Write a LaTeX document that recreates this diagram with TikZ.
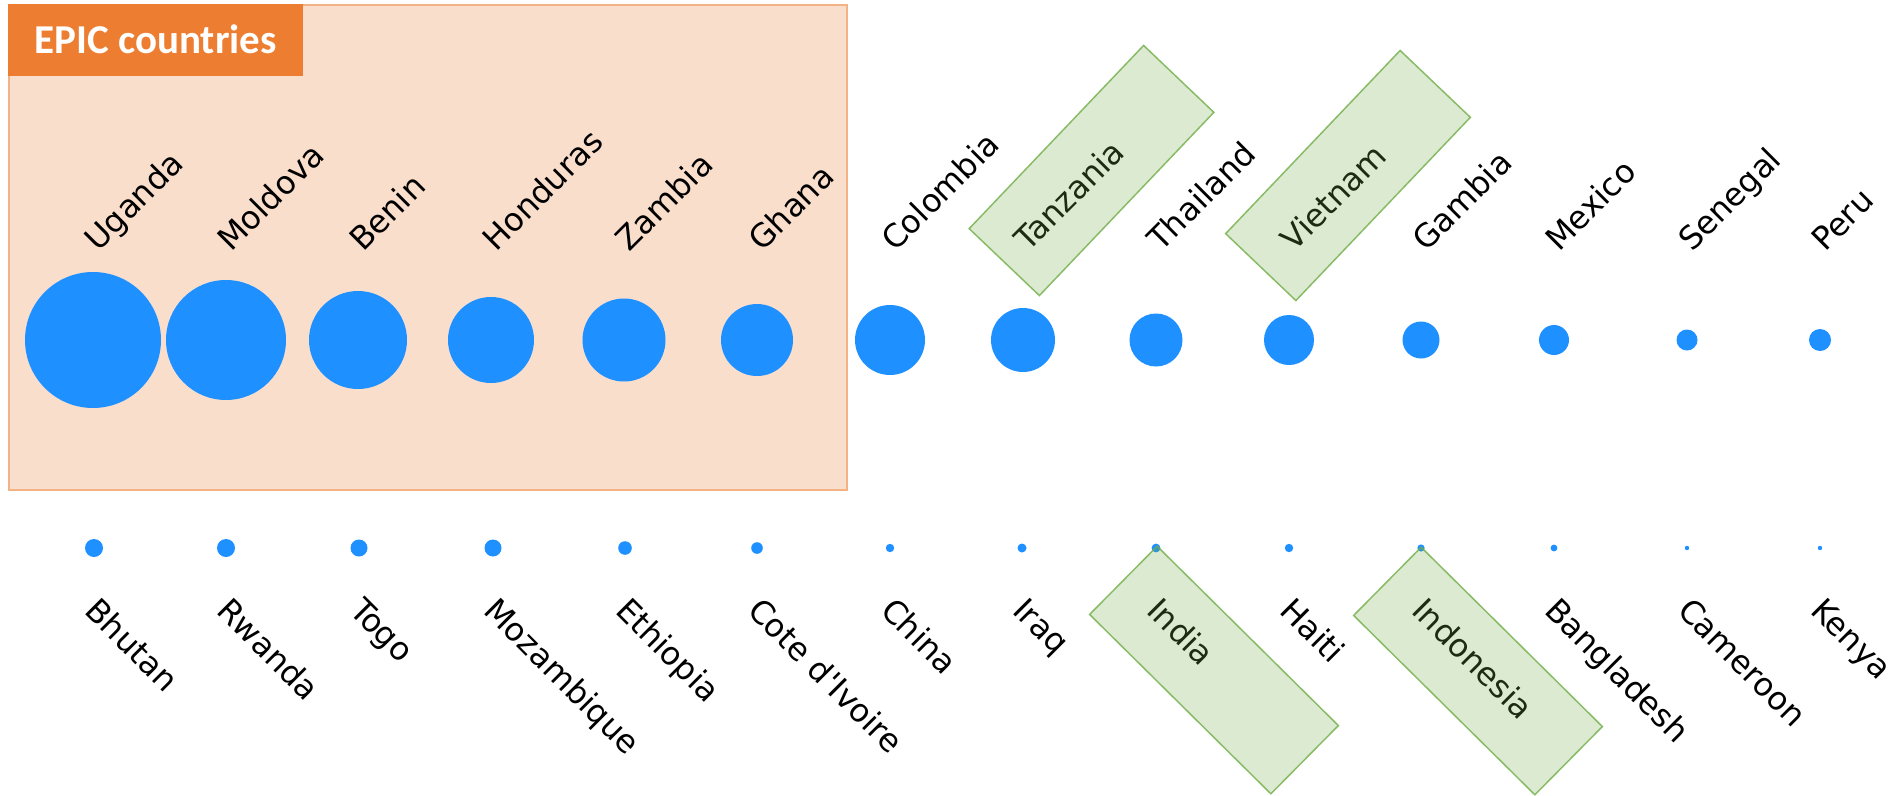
\documentclass[tikz,border=0pt]{standalone}
\usepackage{fontspec}
\newfontfamily\labfont{DejaVu Sans}
\newfontfamily\titlefont{Carlito}
\definecolor{epicorange}{HTML}{ED7D31}
\definecolor{panelfill}{HTML}{F9DECC}
\definecolor{panelborder}{HTML}{F4B183}
\definecolor{dotblue}{HTML}{1E90FF}
\definecolor{boxgreen}{HTML}{70AD47}
\begin{document}
\begin{tikzpicture}[x=1pt,y=-1pt,
  panel/.style={draw=panelborder, fill=panelfill, line width=1.5pt, anchor=north west, inner sep=0pt},
  titlebox/.style={fill=epicorange, text=white, anchor=north west, inner sep=0pt,
    font=\titlefont\bfseries\fontsize{41}{48}\selectfont, text height=26pt, text depth=0pt},
  dot/.style={circle, fill=dotblue, inner sep=0pt},
  lblup/.style={font=\labfont\fontsize{32}{38}\selectfont, rotate=45, anchor=base west, inner sep=0pt},
  lbldown/.style={font=\labfont\fontsize{32}{38}\selectfont, rotate=-45, anchor=base west, inner sep=0pt},
  greenbox/.style={draw=boxgreen, draw opacity=0.8, line width=1.5pt, fill=boxgreen, fill opacity=0.25, inner sep=0pt}
]
\useasboundingbox (0,0) rectangle (1895,795);
\node[panel, minimum width=838, minimum height=485] (panel) at (8,4) {};
\node[titlebox, minimum width=295, minimum height=72] (title) at (8,4) {EPIC countries};
\foreach \n/\x/\r/\lab in {1/93/68/Uganda, 2/226/60/Moldova, 3/358/49/Benin, 4/491/43/Honduras,
  5/624/41.5/Zambia, 6/757/36/Ghana, 7/890/35/Colombia, 8/1023/32/Tanzania, 9/1156/26.5/Thailand,
  10/1289/25/Vietnam, 11/1421/18.5/Gambia, 12/1554/15/Mexico, 13/1687/10.5/Senegal, 14/1820/11/Peru}{
  \node[dot, minimum size={2*\r}] (top\n) at (\x,340) {};
  \node[lblup] (ltop\n) at ({\x+5},253) {\lab};
}
\foreach \n/\x/\r/\lab in {1/94/9/Bhutan, 2/226/9/Rwanda, 3/359/8.5/Togo, 4/493/8.5/Mozambique,
  5/625/6.8/Ethiopia, 6/757/5.8/Cote d'Ivoire, 7/890/4.2/China, 8/1022/4.5/Iraq, 9/1156/4.4/India,
  10/1289/4.2/Haiti, 11/1421/3.6/Indonesia, 12/1554/3.4/Bangladesh, 13/1687/2.2/Cameroon, 14/1820/2.2/Kenya}{
  \node[dot, minimum size={2*\r}] (bot\n) at (\x,548) {};
  \node[lbldown] (lbot\n) at ({\x-11},612) {\lab};
}
\node[greenbox, rotate=46.4, minimum width=253, minimum height=97] (boxTz) at (1091.5,170.5) {};
\node[greenbox, rotate=46.4, minimum width=253, minimum height=97] (boxVn) at (1348,175.5) {};
\node[greenbox, rotate=-44.7, minimum width=255, minimum height=96] (boxIn) at (1214,670) {};
\node[greenbox, rotate=-44.7, minimum width=255, minimum height=96] (boxId) at (1478,671) {};
\end{tikzpicture}
\end{document}
